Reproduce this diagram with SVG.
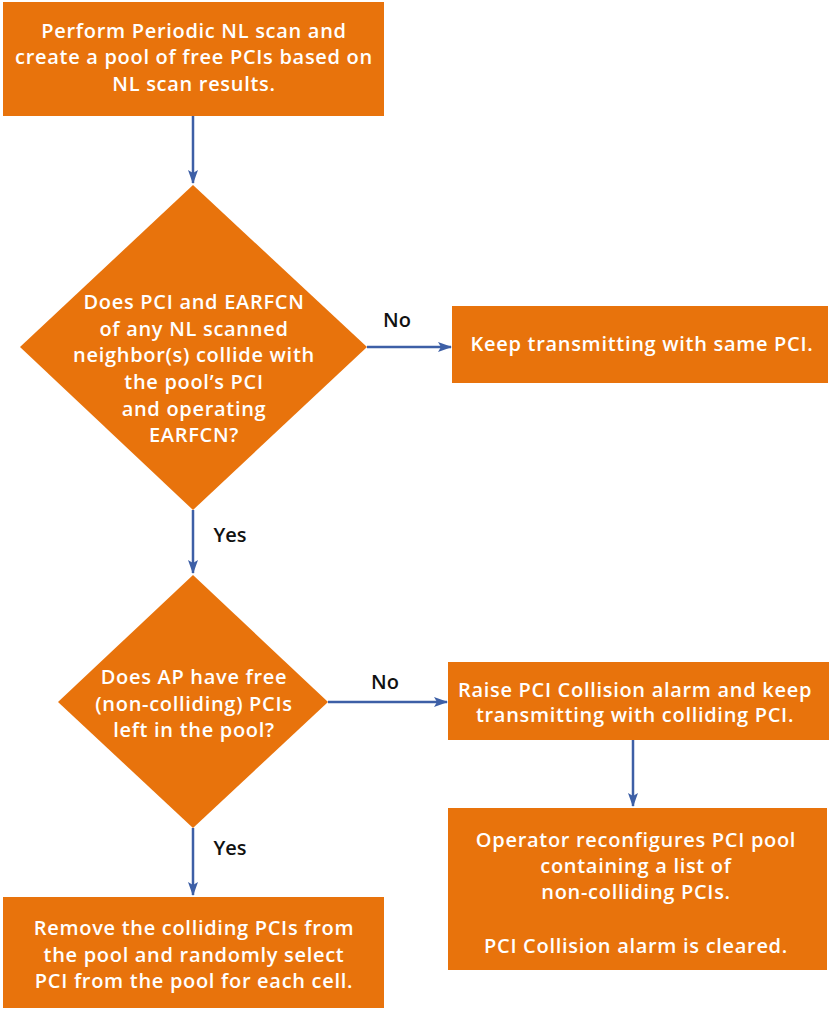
<svg xmlns="http://www.w3.org/2000/svg" width="831" height="1011" viewBox="0 0 831 1011">
<defs>
<style>
.n{fill:#E8730C;}
.t{font-family:"Open Sans","Liberation Sans",sans-serif;font-weight:600;font-size:20px;letter-spacing:0.7px;fill:#FFFFFF;text-anchor:middle;}
.l{font-family:"Open Sans","Liberation Sans",sans-serif;font-weight:600;font-size:20px;fill:#111111;text-anchor:middle;}
.c{stroke:#3D5FA6;stroke-width:2.5;fill:none;}
</style>
<marker id="ah" viewBox="0 0 14 10" refX="13" refY="5" markerWidth="14" markerHeight="10" markerUnits="userSpaceOnUse" orient="auto">
<path d="M0,0 L14,5 L0,10 L3,5 Z" fill="#3D5FA6"/>
</marker>
</defs>
<rect width="831" height="1011" fill="#FFFFFF"/>
<g id="connectors">
<line class="c" x1="193" y1="116" x2="193" y2="183" marker-end="url(#ah)"/>
<line class="c" x1="367" y1="347" x2="451" y2="347" marker-end="url(#ah)"/>
<line class="c" x1="193" y1="510" x2="193" y2="573" marker-end="url(#ah)"/>
<line class="c" x1="328" y1="702" x2="447" y2="702" marker-end="url(#ah)"/>
<line class="c" x1="633" y1="740" x2="633" y2="806" marker-end="url(#ah)"/>
<line class="c" x1="193" y1="828" x2="193" y2="895" marker-end="url(#ah)"/>
<text class="l" x="397" y="327">No</text>
<text class="l" x="230" y="542">Yes</text>
<text class="l" x="385" y="689">No</text>
<text class="l" x="230" y="855">Yes</text>
</g>
<g id="scan">
<rect class="n" x="3" y="2" width="381" height="114"/>
<text class="t" x="194" y="38">Perform Periodic NL scan and</text>
<text class="t" x="194" y="64">create a pool of free PCIs based on</text>
<text class="t" x="194" y="91">NL scan results.</text>
</g>
<g id="collide">
<polygon class="n" points="193,185 367,347 193,510 20,347"/>
<text class="t" x="194" y="309">Does PCI and EARFCN</text>
<text class="t" x="194" y="336">of any NL scanned</text>
<text class="t" x="194" y="362">neighbor(s) collide with</text>
<text class="t" x="194" y="389">the pool’s PCI</text>
<text class="t" x="194" y="416">and operating</text>
<text class="t" x="194" y="442">EARFCN?</text>
</g>
<g id="keep">
<rect class="n" x="452" y="306" width="376" height="77"/>
<text class="t" x="642" y="351">Keep transmitting with same PCI.</text>
</g>
<g id="free">
<polygon class="n" points="193,575 328,702 193,828 58,702"/>
<text class="t" x="194" y="684">Does AP have free</text>
<text class="t" x="194" y="711">(non-colliding) PCIs</text>
<text class="t" x="194" y="737">left in the pool?</text>
</g>
<g id="raise">
<rect class="n" x="448" y="662" width="381" height="78"/>
<text class="t" x="635" y="697">Raise PCI Collision alarm and keep</text>
<text class="t" x="635" y="722">transmitting with colliding PCI.</text>
</g>
<g id="operator">
<rect class="n" x="448" y="808" width="379" height="162"/>
<text class="t" x="636" y="847">Operator reconfigures PCI pool</text>
<text class="t" x="636" y="873">containing a list of</text>
<text class="t" x="636" y="899">non-colliding PCIs.</text>
<text class="t" x="636" y="953">PCI Collision alarm is cleared.</text>
</g>
<g id="remove">
<rect class="n" x="3" y="897" width="381" height="111"/>
<text class="t" x="194" y="935">Remove the colliding PCIs from</text>
<text class="t" x="194" y="962">the pool and randomly select</text>
<text class="t" x="194" y="988">PCI from the pool for each cell.</text>
</g>
</svg>
